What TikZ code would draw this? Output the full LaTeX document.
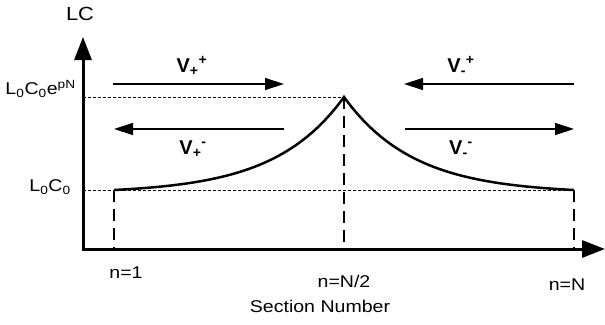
\documentclass[tikz,border=0pt]{standalone}
\usepackage{fontspec}
\setmainfont{Liberation Sans}
\usepackage{tikz}
\usetikzlibrary{arrows.meta}

\begin{document}
\begin{tikzpicture}[
    x=1pt, y=-1pt,
    axis/.style={
        line width=3pt,
        -{Triangle[length=23pt, width=17pt]}
    },
    wave/.style={
        line width=1.3pt,
        -{Triangle[length=19pt, width=12pt]}
    },
    guide/.style={
        line width=1pt,
        dash pattern=on 3pt off 2pt
    },
    drop/.style={
        line width=1.5pt,
        dash pattern=on 12pt off 7pt
    },
    profile/.style={
        line width=2.5pt,
        line join=miter
    },
    lbl/.style={
        font=\fontsize{17}{19}\selectfont,
        xscale=1.15,
        inner sep=0pt
    },
    vlbl/.style={
        font=\fontsize{20}{22}\selectfont\bfseries,
        inner sep=0pt
    }
]
    \useasboundingbox (0,0) rectangle (605,324);

    % Axes
    \coordinate (origin) at (83,249);
    \coordinate (ytip) at (83,37);
    \coordinate (xtip) at (605,249);
    \draw [axis] (origin) -- (ytip);
    \draw [axis] ([xshift=-1.5pt]origin) -- (xtip);

    % Key points of the LC profile
    \coordinate (start) at (114,190);
    \coordinate (peak) at (344,97);
    \coordinate (stop) at (574,190);

    % Reference levels
    \draw [guide] (origin |- peak) -- (peak);
    \draw [guide] (origin |- start) -- (stop);

    % Section markers
    \draw [drop] (start) -- (start |- origin);
    \draw [drop] (peak) -- (peak |- origin);
    \draw [drop] (stop) -- (stop |- origin);

    % Exponential taper, both halves
    \draw [profile] plot [domain=0:1, samples=60, smooth]
        ({114+230*\x}, {190-93*(exp(3.3*\x)-1)/(exp(3.3)-1)})
        -- plot [domain=1:0, samples=60, smooth]
        ({574-230*\x}, {190-93*(exp(3.3*\x)-1)/(exp(3.3)-1)});

    % Travelling waves
    \coordinate (a1) at (113,84);
    \coordinate (a2) at (284,84);
    \coordinate (b1) at (284,129);
    \coordinate (b2) at (114,129);
    \coordinate (c1) at (574,84);
    \coordinate (c2) at (404,84);
    \coordinate (d1) at (405,129);
    \coordinate (d2) at (574,129);
    \draw [wave] (a1) -- (a2);
    \draw [wave] (b1) -- (b2);
    \draw [wave] (c1) -- (c2);
    \draw [wave] (d1) -- (d2);

    \node [vlbl] (vpp) at (192,66) {V\textsubscript{+}\textsuperscript{+}};
    \node [vlbl] (vpm) at (193,149) {V\textsubscript{+}\textsuperscript{-}};
    \node [vlbl] (vmp) at (461,66) {V\textsubscript{-}\textsuperscript{+}};
    \node [vlbl] (vmm) at (461,149) {V\textsubscript{-}\textsuperscript{-}};

    % Axis labels
    \node [lbl, font=\fontsize{19}{21}\selectfont] (lc) at (80,14) {LC};
    \node [lbl, anchor=east] (high) at (76,89) {L\textsubscript{0}C\textsubscript{0}e\textsuperscript{pN}};
    \node [lbl, anchor=east] (low) at (71,187) {L\textsubscript{0}C\textsubscript{0}};
    \node [lbl] (n1) at (126,273) {n=1};
    \node [lbl] (nhalf) at (344,281) {n=N/2};
    \node [lbl] (nN) at (567,285) {n=N};
    \node [lbl] (section) at (320,306) {Section Number};
\end{tikzpicture}
\end{document}
